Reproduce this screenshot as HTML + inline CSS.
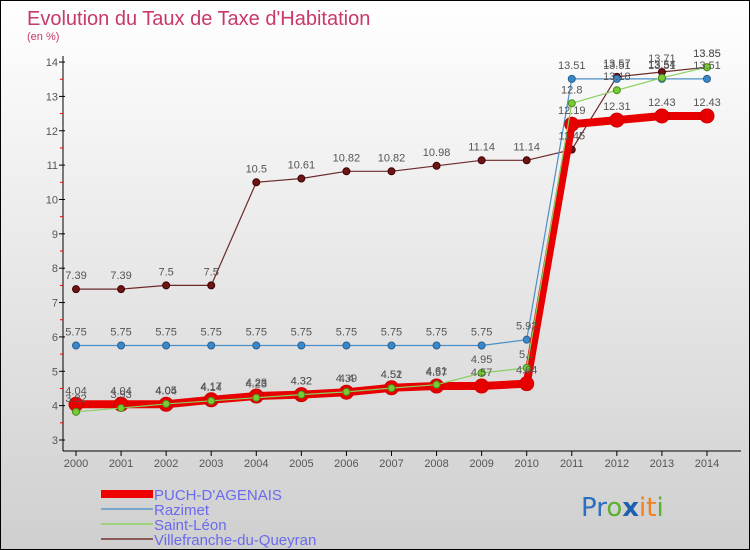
<!DOCTYPE html>
<html><head><meta charset="utf-8"><style>
body{margin:0}
#c{width:748px;height:548px;border:1px solid #000;background:linear-gradient(#ffffff,#cfcfcf);position:relative;overflow:hidden;font-family:"Liberation Sans",sans-serif}
</style></head><body>
<div id="c">
<svg id="s" width="748" height="548" xmlns="http://www.w3.org/2000/svg">
<text x="26" y="24" font-size="20" fill="#c8386a">Evolution du Taux de Taxe d'Habitation</text>
<text x="26" y="39" font-size="11" fill="#c8386a">(en %)</text>
<g id="axes"></g><g id="series"></g><g id="labels"></g>
<g>
<rect x="100" y="489" width="52" height="8" fill="#e00"/>
<text x="153" y="499" font-size="15" fill="#6a6aee">PUCH-D'AGENAIS</text>
<rect x="100" y="507" width="52" height="2" fill="#7aa6cc"/>
<text x="153" y="514" font-size="15" fill="#6a6aee">Razimet</text>
<rect x="100" y="522" width="52" height="2" fill="#9bd27a"/>
<text x="153" y="529" font-size="15" fill="#6a6aee">Saint-Léon</text>
<rect x="100" y="537" width="52" height="2" fill="#8a5a5a"/>
<text x="153" y="544" font-size="15" fill="#6a6aee">Villefranche-du-Queyran</text>
</g>
<g font-size="26" font-family="'DejaVu Sans',sans-serif">
<text x="580" y="515"><tspan fill="#2b6fc0">Pr</tspan><tspan fill="#5cb030">o</tspan><tspan fill="#1e60b0" font-weight="bold">x</tspan><tspan fill="#f08020">it</tspan><tspan fill="#5cb030">i</tspan></text>
</g>
</svg></div>
<script>
const years=[2000,2001,2002,2003,2004,2005,2006,2007,2008,2009,2010,2011,2012,2013,2014];
const yTicks=[3,4,5,6,7,8,9,10,11,12,13,14];
const puch=[4.04,4.04,4.04,4.17,4.28,4.32,4.39,4.52,4.57,4.57,4.64,12.19,12.31,12.43,12.43];
const razimet=[5.75,5.75,5.75,5.75,5.75,5.75,5.75,5.75,5.75,5.75,5.92,13.51,13.51,13.51,13.51];
const saintLeon=[3.82,3.93,4.05,4.14,4.23,4.32,4.40,4.51,4.61,4.95,5.1,12.8,13.18,13.54,13.85];
const villefranche=[7.39,7.39,7.5,7.5,10.5,10.61,10.82,10.82,10.98,11.14,11.14,11.45,13.57,13.71,13.85];
const NS="http://www.w3.org/2000/svg";
const X=y=>75+(y-2000)*45.07, Y=v=>439-(v-3)*34.36;
function mk(t,a,p){const e=document.createElementNS(NS,t);for(const k in a)e.setAttribute(k,a[k]);p.appendChild(e);return e;}
const ax=document.getElementById('axes'),se=document.getElementById('series'),lb=document.getElementById('labels');
let e=mk('line',{x1:62,y1:55,x2:62,y2:450,stroke:'#000'},ax);

e=mk('line',{x1:62,y1:450,x2:740,y2:450,stroke:'#000'},ax);

yTicks.forEach(v=>{mk('line',{x1:58,x2:64,y1:Y(v),y2:Y(v),stroke:'#000'},ax);
 if(v<14)mk('line',{x1:59,x2:62,y1:Y(v+0.5),y2:Y(v+0.5),stroke:'#e00'},ax);
 const t=mk('text',{x:57,y:Y(v)+4,'font-size':11,fill:'#555','text-anchor':'end'},ax);t.textContent=v;
 });
years.forEach(y=>{mk('line',{x1:X(y),x2:X(y),y1:450,y2:455,stroke:'#000'},ax);
 const t=mk('text',{x:X(y),y:466,'font-size':11,fill:'#555','text-anchor':'middle'},ax);t.textContent=y;
 });
function draw(vals,name,col,w,r,dot,stroke){
 const p=mk('polyline',{points:vals.map((v,i)=>X(years[i])+','+Y(v)).join(' '),fill:'none',stroke:col,'stroke-width':w,'stroke-linejoin':'round'},se);
 
 vals.forEach((v,i)=>{const c=mk('circle',{cx:X(years[i]),cy:Y(v),r:r,fill:dot,stroke:stroke,'stroke-width':1},se);
  
  const t=mk('text',{x:X(years[i]),y:Y(v)-10,'font-size':11,fill:'#555','text-anchor':'middle'},lb);t.textContent=v;
  });
}
draw(villefranche,'villefranche','#6b2a2a',1.2,3.5,'#6b1515','#400');
draw(razimet,'razimet','#4a90c8',1.2,3.5,'#3a88cc','#2a6090');
draw(puch,'puch','#e80000',8,7,'#e80000','#c00');
draw(saintLeon,'saint-leon','#88d060',1.2,3.5,'#77cc33','#4a8a20');
</script>
</body></html>
